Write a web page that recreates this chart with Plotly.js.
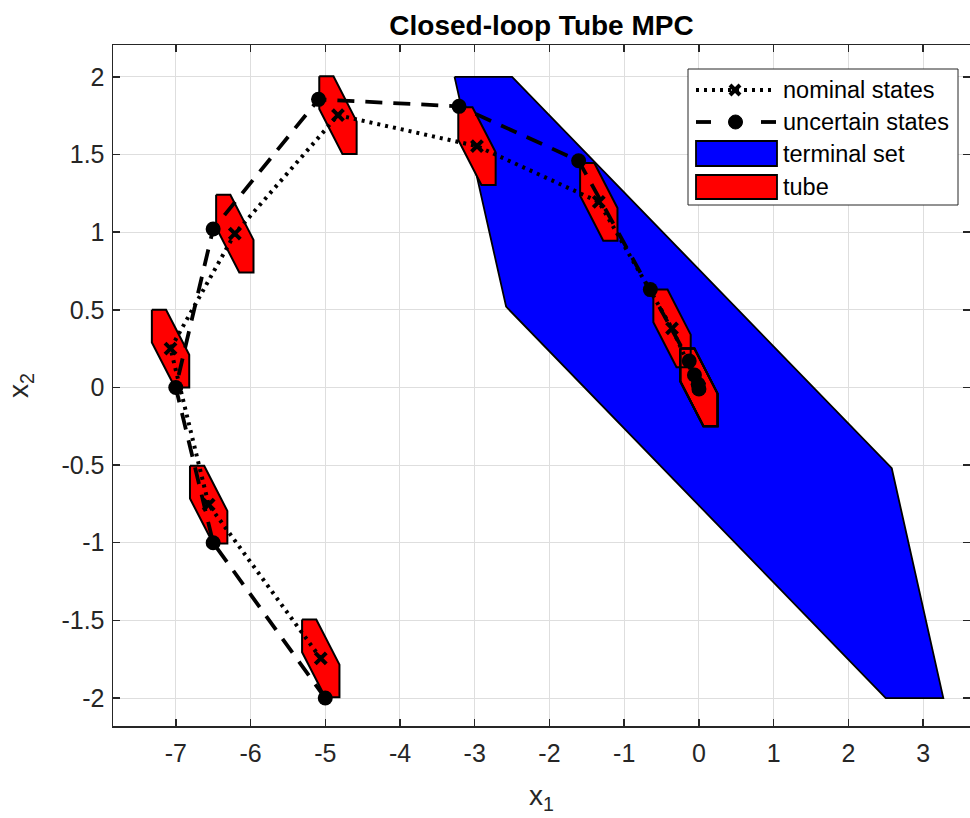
<!DOCTYPE html>
<html><head><meta charset="utf-8">
<script src="https://cdn.plot.ly/plotly-3.0.1.min.js"></script>
<style>html,body{margin:0;padding:0;background:#fff;} #chart{width:970px;height:818px;}</style>
</head><body><div id="chart"></div>
<script>
// ---- data ----
const nominalX = [-5.06, -6.56, -7.07, -6.21, -4.83, -2.97, -1.34, -0.36, 0.0, 0.0, 0.0, 0.0];
const nominalY = [-1.745, -0.755, 0.25, 0.99, 1.753, 1.554, 1.195, 0.38, 0.0, 0.0, 0.0, 0.0];
const uncertainX = [-5.0, -6.5, -7.0, -6.5, -5.09, -3.21, -1.61, -0.65, -0.13, -0.06, -0.01, 0.0];
const uncertainY = [-2.0, -1.0, 0.0, 1.02, 1.855, 1.81, 1.46, 0.63, 0.17, 0.08, 0.02, -0.01];
const terminalX = [-3.27, -2.5, 2.58, 3.27, 2.5, -2.58];
const terminalY = [2.0, 2.0, -0.52, -2.0, -2.0, 0.52];
const tubeDX = [-0.25, -0.06, 0.25, 0.25, 0.06, -0.25];
const tubeDY = [0.25, 0.25, -0.04, -0.25, -0.25, 0.04];
const xTickVals = [-7, -6, -5, -4, -3, -2, -1, 0, 1, 2, 3];
const xTickText = ['-7', '-6', '-5', '-4', '-3', '-2', '-1', '0', '1', '2', '3'];
const yTickVals = [-2, -1.5, -1, -0.5, 0, 0.5, 1, 1.5, 2];
const yTickText = ['-2', '-1.5', '-1', '-0.5', '0', '0.5', '1', '1.5', '2'];
const legendLabels = ['nominal states', 'uncertain states', 'terminal set', 'tube'];
const titleText = 'Closed-loop Tube MPC';

// ---- build tube polygons (nominal state + tube offsets) ----
const tubeX = [], tubeY = [];
for (let k = 0; k < nominalX.length; k++) {
  for (let j = 0; j <= tubeDX.length; j++) {
    const i = j % tubeDX.length;
    tubeX.push(nominalX[k] + tubeDX[i]);
    tubeY.push(nominalY[k] + tubeDY[i]);
  }
  tubeX.push(null); tubeY.push(null);
}

const FONT = 'Liberation Sans, Arial, Helvetica, sans-serif';
const AX = '#262626';

const traces = [
  {x: terminalX.concat([terminalX[0]]), y: terminalY.concat([terminalY[0]]), type: 'scatter', mode: 'lines',
   fill: 'toself', fillcolor: '#0000ff', line: {color: '#000', width: 1.8}, name: legendLabels[2], showlegend: false, hoverinfo: 'skip'},
  {x: tubeX, y: tubeY, type: 'scatter', mode: 'lines', fill: 'toself', fillcolor: '#ff0000',
   line: {color: '#000', width: 2}, connectgaps: false, name: legendLabels[3], showlegend: false, hoverinfo: 'skip'},
  {x: nominalX, y: nominalY, type: 'scatter', mode: 'lines+markers', name: legendLabels[0], showlegend: false,
   line: {color: '#000', width: 4, dash: '3px,5px'},
   marker: {symbol: 'x-thin', size: 11, color: '#000', line: {color: '#000', width: 4}}},
  {x: uncertainX, y: uncertainY, type: 'scatter', mode: 'lines+markers', name: legendLabels[1], showlegend: false,
   line: {color: '#000', width: 3.8, dash: '17px,11px'},
   marker: {symbol: 'circle', size: 15, color: '#000'}}
];

// ---- custom MATLAB-like legend (pixel helpers) ----
const PL = 113, PR = 970, PT = 45, PB = 726;
const px = v => (v - PL) / (PR - PL);
const py = v => (PB - v) / (PB - PT);
const shapes = [
  {type: 'rect', xref: 'paper', yref: 'paper', x0: px(688), x1: px(958), y0: py(69), y1: py(205), fillcolor: '#fff', line: {color: AX, width: 1}},
  {type: 'line', xref: 'paper', yref: 'paper', x0: px(696), x1: px(776), y0: py(90), y1: py(90), line: {color: '#000', width: 4, dash: '3px,5px'}},
  {type: 'line', xref: 'paper', yref: 'paper', x0: px(730), x1: px(740), y0: py(85), y1: py(95), line: {color: '#000', width: 4}},
  {type: 'line', xref: 'paper', yref: 'paper', x0: px(730), x1: px(740), y0: py(95), y1: py(85), line: {color: '#000', width: 4}},
  {type: 'line', xref: 'paper', yref: 'paper', x0: px(696), x1: px(711), y0: py(122), y1: py(122), line: {color: '#000', width: 3.8}},
  {type: 'line', xref: 'paper', yref: 'paper', x0: px(761), x1: px(776), y0: py(122), y1: py(122), line: {color: '#000', width: 3.8}},
  {type: 'circle', xref: 'paper', yref: 'paper', x0: px(728.5), x1: px(742.5), y0: py(115), y1: py(129), fillcolor: '#000', line: {color: '#000', width: 1}},
  {type: 'rect', xref: 'paper', yref: 'paper', x0: px(696), x1: px(777), y0: py(141), y1: py(166), fillcolor: '#0000ff', line: {color: '#000', width: 1.8}},
  {type: 'rect', xref: 'paper', yref: 'paper', x0: px(696), x1: px(777), y0: py(175), y1: py(199), fillcolor: '#ff0000', line: {color: '#000', width: 1.8}}
];
const rowY = [90, 122, 154, 187];
const annotations = legendLabels.map((t, i) => ({
  text: t, xref: 'paper', yref: 'paper', x: px(781), y: py(rowY[i]), xanchor: 'left', yanchor: 'middle',
  showarrow: false, font: {family: FONT, size: 23.5, color: '#000'}
}));

const layout = {
  width: 970, height: 818,
  margin: {l: PL, r: 970 - PR, t: PT, b: 818 - PB, pad: 0},
  paper_bgcolor: '#fff', plot_bgcolor: '#fff',
  showlegend: false,
  title: {text: '<b>' + titleText + '</b>', x: 0.5, xref: 'paper', y: 1 - 25.5 / 818, yanchor: 'middle',
          font: {family: FONT, size: 28, color: '#000'}},
  xaxis: {range: [-7.84, 3.627], tickvals: xTickVals, ticktext: xTickText, showgrid: true, gridcolor: '#dedede', gridwidth: 1,
          zeroline: false, showline: true, linecolor: AX, linewidth: 1.5, mirror: 'ticks', ticks: 'inside', ticklen: 7,
          tickwidth: 1.5, tickcolor: AX, tickfont: {family: FONT, size: 25, color: AX}, ticklabelstandoff: 4,
          title: {text: 'x<sub>1</sub>', font: {family: FONT, size: 28, color: AX}, standoff: 20}},
  yaxis: {range: [-2.18, 2.205], tickvals: yTickVals, ticktext: yTickText, showgrid: true, gridcolor: '#dedede', gridwidth: 1,
          zeroline: false, showline: true, linecolor: AX, linewidth: 1.5, mirror: 'ticks', ticks: 'inside', ticklen: 7,
          tickwidth: 1.5, tickcolor: AX, tickfont: {family: FONT, size: 25, color: AX}, ticklabelstandoff: 2,
          title: {text: 'x<sub>2</sub>', font: {family: FONT, size: 28, color: AX}, standoff: 24}},
  shapes: shapes,
  annotations: annotations
};

Plotly.newPlot('chart', traces, layout, {staticPlot: true, displayModeBar: false});
</script></body></html>
